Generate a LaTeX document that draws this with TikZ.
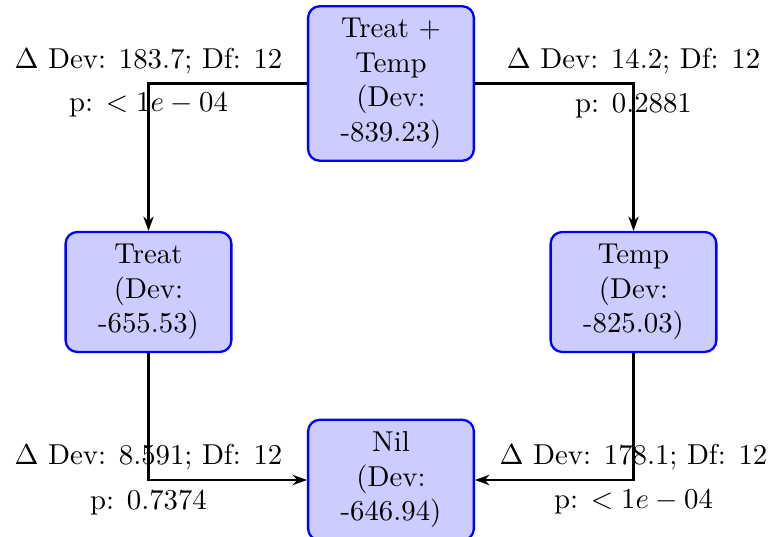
\documentclass[tikz,border=0pt]{standalone}
\usetikzlibrary{arrows.meta}
\begin{document}
\begin{tikzpicture}[x=0.3475pt, y=-0.3475pt,
  model/.style={draw=blue, fill=blue!20, thick, rounded corners=4pt,
    text width=1.79cm, align=center, inner xsep=3.33pt, inner ysep=4.2pt},
  link/.style={line width=0.7pt, -{Stealth[length=5pt, width=3.6pt]}},
  stat/.style={inner sep=3pt}]
\useasboundingbox (0,0) rectangle (773,537);
\node[model] (full)  at (391,83.5)  {Treat $+$\\Temp\\(Dev:\\-839.23)};
\node[model] (treat) at (148.5,292) {Treat\\(Dev:\\-655.53)};
\node[model] (temp)  at (633.5,292) {Temp\\(Dev:\\-825.03)};
\node[model] (nil)   at (391,480)   {Nil\\(Dev:\\-646.94)};
\draw[link] (full.west) -| node[stat,above]{$\Delta$ Dev: 183.7; Df: 12}
  node[stat,below]{p: $<1e-04$} (treat.north);
\draw[link] (full.east) -| node[stat,above]{$\Delta$ Dev: 14.2; Df: 12}
  node[stat,below]{p: 0.2881} (temp.north);
\draw[link] (treat.south) |- node[stat,above]{$\Delta$ Dev: 8.591; Df: 12}
  node[stat,below]{p: 0.7374} (nil.west);
\draw[link] (temp.south) |- node[stat,above]{$\Delta$ Dev: 178.1; Df: 12}
  node[stat,below]{p: $<1e-04$} (nil.east);
\end{tikzpicture}
\end{document}
